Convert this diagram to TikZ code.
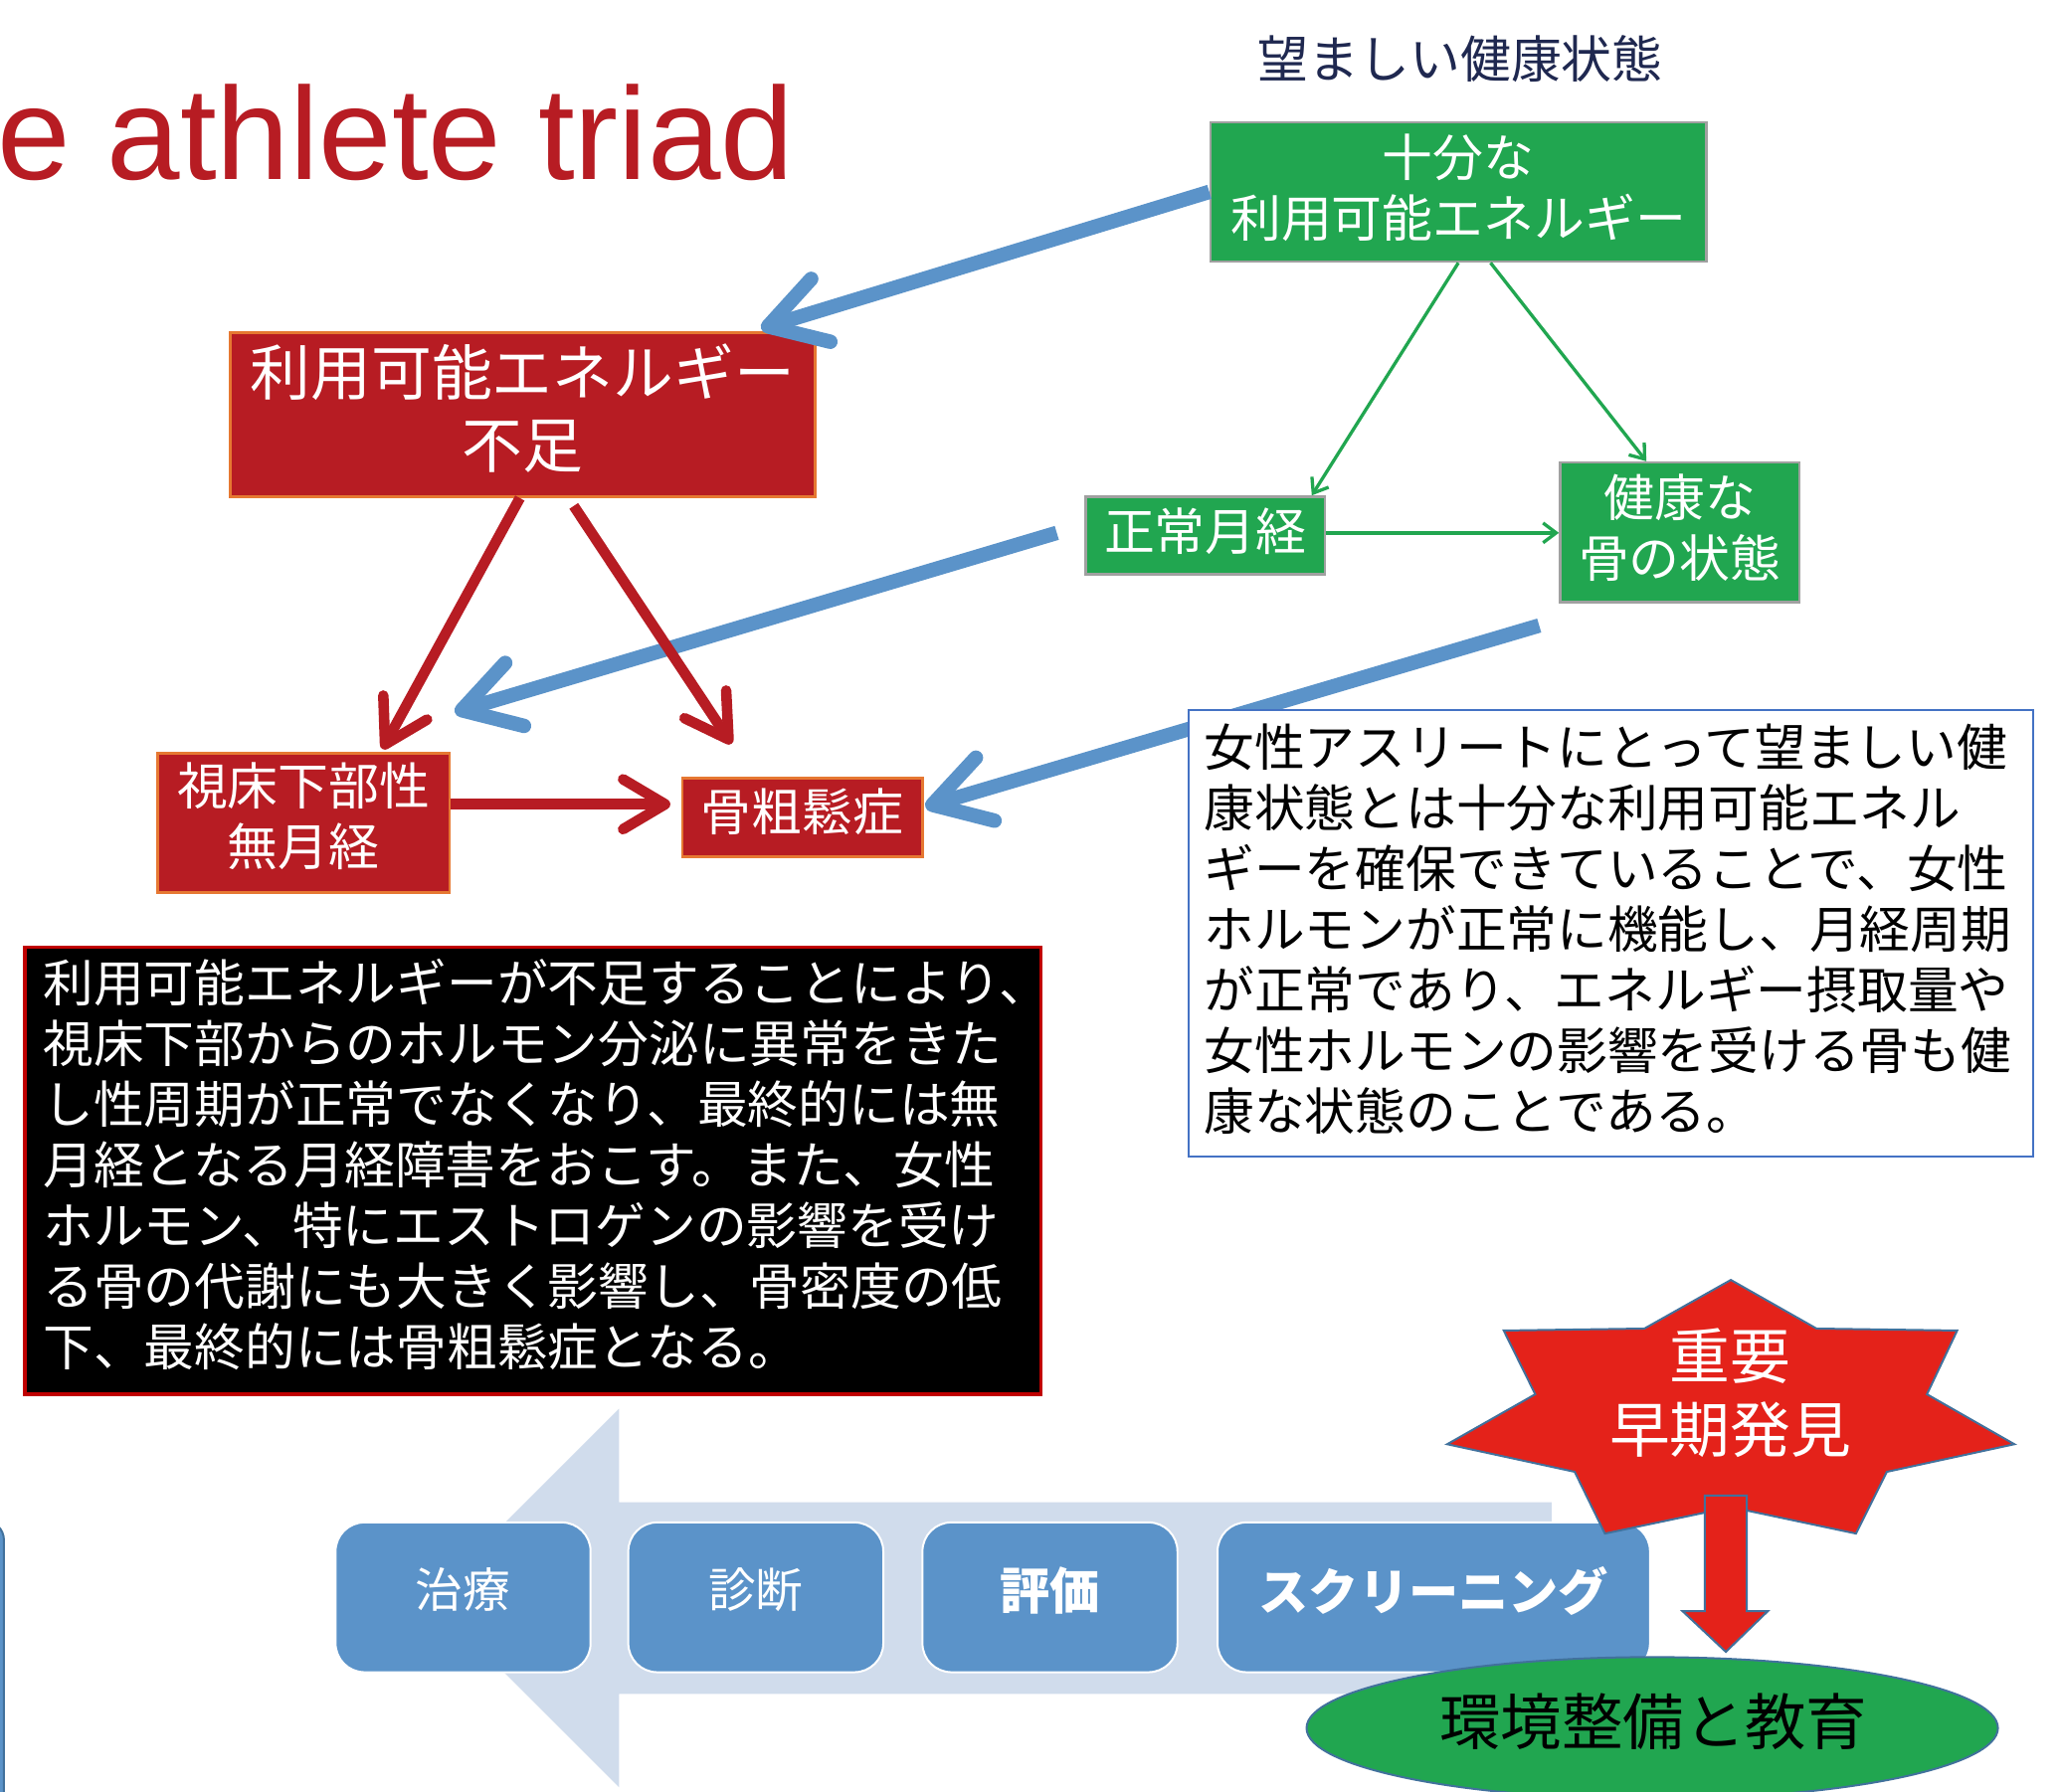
\documentclass[tikz,border=0pt]{standalone}
\usepackage{fontspec}
\setmainfont{Liberation Sans}
\newfontfamily\jp{Noto Sans CJK JP}
\usetikzlibrary{arrows.meta,calc,shapes.geometric}
\definecolor{titlered}{RGB}{183,28,35}
\definecolor{rfill}{RGB}{183,28,35}
\definecolor{rbord}{RGB}{230,120,50}
\definecolor{gfill}{RGB}{33,166,80}
\definecolor{gbord}{RGB}{160,160,160}
\definecolor{navy}{RGB}{31,40,80}
\definecolor{stepblue}{RGB}{91,147,201}
\definecolor{lightarrow}{RGB}{208,220,236}
\definecolor{starred}{RGB}{228,34,26}
\definecolor{darkblue}{RGB}{65,113,156}
\definecolor{boxblue}{RGB}{68,114,196}
\definecolor{boxred}{RGB}{192,0,0}
\begin{document}
\begin{tikzpicture}[x=1pt,y=-1pt,
  redbox/.style={draw=rbord, fill=rfill, line width=2pt, inner sep=0pt},
  greenbox/.style={draw=gbord, fill=gfill, line width=2pt, inner sep=0pt},
  boxtext/.style={text=white, inner sep=0pt, align=center},
  stepbox/.style={draw=white, line width=1.5pt, fill=stepblue, rounded corners=22pt, minimum height=114pt, inner sep=0pt},
  steptext/.style={text=white, inner sep=0pt},
  bluearrow/.style={draw=stepblue, line width=11pt, -{Straight Barb[length=42pt,width=50pt,round]}},
  redarrow/.style={draw=rfill, line width=8pt, -{Straight Barb[length=32pt,width=38pt,round]}},
  greenarrow/.style={draw=gfill, line width=2.5pt, -{Straight Barb[length=10pt,width=15pt]}},
  s38/.style={font=\jp\fontsize{38.5}{46.5}\selectfont}
]
\clip (0,0) rectangle (1568,1363);
\fill[white] (0,0) rectangle (1568,1363);

% partial shape at left edge
\draw[fill=stepblue, draw=darkblue, line width=1.5pt, rounded corners=15pt] (-200,1157) rectangle (3,1500);

% title and heading
\node[anchor=base west, inner sep=0pt, text=titlered, font=\fontsize{100}{110}\selectfont] (title) at (-2,136.7) {e athlete triad};
\node[inner sep=0pt, text=navy, s38] (head) at (1111,45) {望ましい健康状態};

% bottom process arrow
\fill[lightarrow] (1180.4,1143.2) -- (471,1143.2) -- (471,1072) -- (327,1216) -- (471,1360) -- (471,1289) -- (1180.4,1289) -- cycle;
\node[stepbox, minimum width=194pt] (s1) at (352.3,1215.5) {};
\node[stepbox, minimum width=194pt] (s2) at (575,1215.5) {};
\node[stepbox, minimum width=194pt] (s3) at (798.8,1215.5) {};
\node[stepbox, minimum width=329pt] (s4) at (1090.8,1215.5) {};
\node[steptext, font=\jp\fontsize{36}{40}\selectfont] (s1T) at ($(s1)+(0,-6)$) {治療};
\node[steptext, font=\jp\fontsize{36}{40}\selectfont] (s2T) at ($(s2)+(0,-6)$) {診断};
\node[steptext, font=\jp\bfseries\fontsize{38}{40}\selectfont] (s3T) at ($(s3)+(0,-5)$) {評価};
\node[steptext, font=\jp\bfseries\fontsize{38}{40}\selectfont] (s4T) at ($(s4)+(0,-5)$) {スクリーニング};

% star
\draw[fill=starred, draw=darkblue, line width=1.5pt, line join=miter]
  (1316.8,974) -- (1382,1011) -- (1489,1012.5) -- (1466,1061) -- (1532.5,1099) -- (1435.5,1120)
  -- (1412,1167) -- (1316.8,1146.9) -- (1221,1167) -- (1198,1120) -- (1101,1099) -- (1168,1061)
  -- (1144,1012.5) -- (1251,1011) -- cycle;
\node[boxtext, font=\jp\fontsize{46}{56}\selectfont] (star) at (1316.5,1060.3) {重要\\早期発見};

% ellipse
\node[ellipse, draw=darkblue, fill=gfill, line width=1.5pt, minimum width=526pt, minimum height=108pt, inner sep=0pt] (env) at (1257,1315) {};
\node[inner sep=0pt, text=black, font=\jp\fontsize{46.5}{50}\selectfont] (envT) at ($(env)+(1,-4.7)$) {環境整備と教育};

% down block arrow
\draw[fill=starred, draw=darkblue, line width=1.5pt]
  (1297,1138) -- (1329,1138) -- (1329,1226) -- (1345,1226) -- (1313,1257) -- (1280,1226) -- (1297,1226) -- cycle;

% triad boxes
\node[greenbox, minimum width=377pt, minimum height=106pt] (gt) at (1109.5,146) {};
\node[boxtext, s38] (gtT) at ($(gt)+(0,-3.2)$) {十分な\\利用可能エネルギー};
\node[greenbox, minimum width=182pt, minimum height=59pt] (nm) at (917,407.5) {};
\node[boxtext, s38] (nmT) at ($(nm)+(0,-3.5)$) {正常月経};
\node[greenbox, minimum width=182pt, minimum height=106pt] (hb) at (1278,405) {};
\node[boxtext, s38] (hbT) at ($(hb)+(0,-3.3)$) {健康な\\骨の状態};

\node[redbox, minimum width=445pt, minimum height=125pt] (ea) at (397.5,315.5) {};
\node[boxtext, font=\jp\fontsize{46}{55.8}\selectfont] (eaT) at ($(ea)+(0,-4.8)$) {利用可能エネルギー\\不足};
\node[redbox, minimum width=222pt, minimum height=106pt] (hy) at (231,626) {};
\node[boxtext, s38] (hyT) at ($(hy)+(0,-4.8)$) {視床下部性\\無月経};
\node[redbox, minimum width=183pt, minimum height=60pt] (op) at (610.5,622) {};
\node[boxtext, s38] (opT) at ($(op)+(0,-4)$) {骨粗鬆症};

% blue arrows
\coordinate (a2tip) at (346,542);
\draw[bluearrow] (gt.west) -- ($(ea.north east)+(-42,-2)$);
\draw[bluearrow] ($(nm.west)+(-21,-2)$) -- (a2tip);
\draw[bluearrow] ($(hb.south west)+(-15,17)$) -- ($(op.east)+(1,-8)$);

% red arrows
\draw[redarrow] ($(ea.south)+(-2,0)$) -- ($(hy.north)+(60,-2)$);
\draw[redarrow] ($(ea.south)+(39,6)$) -- ($(op.north)+(-54,-25)$);
\draw[redarrow] ($(hy.east)+(0,-14)$) -- ($(op.west)+(-8,-10)$);

% green arrows
\draw[greenarrow] (gt.south) -- ($(nm.north east)+(-11,0)$);
\draw[greenarrow] ($(gt.south)+(24.5,0)$) -- ($(hb.north)+(-25.5,0)$);
\draw[greenarrow] ($(nm.east)+(0,-2)$) -- ($(hb.west)+(0,0.5)$);

% white description box
\node[draw=boxblue, fill=white, line width=1.5pt, minimum width=643pt, minimum height=340pt, inner sep=0pt] (wb) at (1225.5,710) {};
\node[anchor=base west, inner sep=0pt, text=black, font=\jp\fontsize{38.4}{46.2}\selectfont] (wbT) at (915.7,583.2)
 {\vtop{\hbox{女性アスリートにとって望ましい健}\hbox{康状態とは十分な利用可能エネル}\hbox{ギーを確保できていることで、女性}\hbox{ホルモンが正常に機能し、月経周期}\hbox{が正常であり、エネルギー摂取量や}\hbox{女性ホルモンの影響を受ける骨も健}\hbox{康な状態のことである。}}};

% black description box
\node[draw=boxred, fill=black, line width=2.5pt, minimum width=773pt, minimum height=340pt, inner sep=0pt] (bb) at (405.5,891) {};
\node[anchor=base west, inner sep=0pt, text=white, font=\jp\fontsize{38.4}{46.2}\selectfont] (bbT) at (32.7,762.3)
 {\vtop{\hbox{利用可能エネルギーが不足することにより、}\hbox{視床下部からのホルモン分泌に異常をきた}\hbox{し性周期が正常でなくなり、最終的には無}\hbox{月経となる月経障害をおこす。また、女性}\hbox{ホルモン、特にエストロゲンの影響を受け}\hbox{る骨の代謝にも大きく影響し、骨密度の低}\hbox{下、最終的には骨粗鬆症となる。}}};
\end{tikzpicture}
\end{document}
